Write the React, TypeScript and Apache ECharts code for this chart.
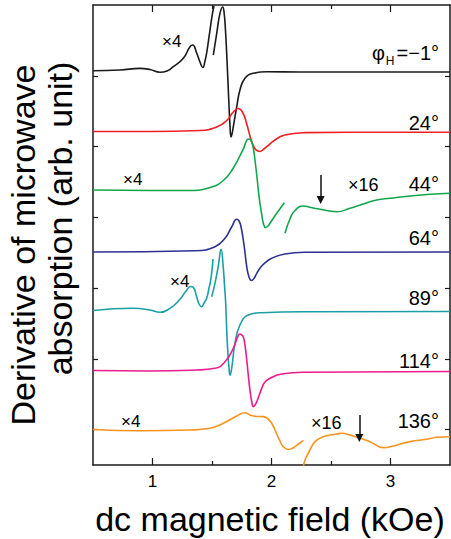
import React, { useEffect, useRef } from 'react';
import * as echarts from 'echarts';

// ---------- data (field in kOe, value = derivative signal relative to each trace's baseline, arb. unit) ----------
const curveOffsets = [5.067, 4.22, 3.386, 2.51, 1.683, 0.835, -0.005];
const curveColors = ['#1a1a1a', '#ed2024', '#12a64c', '#2e3192', '#1b9ea6', '#ec1c8c', '#f7941d'];
const angleLabels = ['=\u22121\u00b0', '24\u00b0', '44\u00b0', '64\u00b0', '89\u00b0', '114\u00b0', '136\u00b0'];
const xTickLabels = [1, 2, 3];
const xMinorTicks = [1.5, 2.5];
const yTicks = [0, 1, 2, 3, 4, 5];

// φH = -1°
const blackX4B = [0.5, 0.727, 0.895, 0.979, 1.063, 1.122, 1.175, 1.259, 1.315, 1.338, 1.371, 1.399, 1.423, 1.441, 1.455, 1.483, 1.503, 1.517];
const blackX4V = [0.004, 0.014, 0.038, 0.021, -0.018, 0, 0.061, 0.179, 0.343, 0.367, 0.254, 0.127, 0.049, 0.141, 0.254, 0.579, 0.805, 0.918];
const blackB = [1.511, 1.54, 1.567, 1.59, 1.601, 1.613, 1.626, 1.639, 1.651, 1.66, 1.668, 1.679, 1.708, 1.735, 1.777, 1.847, 1.96, 2.239, 3.5];
const blackV = [0.226, 0.537, 0.815, 0.904, 0.834, 0.579, 0.155, -0.339, -0.763, -0.933, -0.89, -0.787, -0.504, -0.268, -0.103, -0.032, -0.01, -0.014, -0.014];

// 24°
const redB = [0.5, 0.979, 1.399, 1.54, 1.624, 1.679, 1.721, 1.758, 1.792, 1.819, 1.845, 1.87, 1.903, 1.937, 1.96, 2.029, 2.113, 2.282, 2.66, 3.5];
const redV = [-0.007, -0.007, 0.007, 0.057, 0.148, 0.268, 0.318, 0.261, 0.099, -0.071, -0.198, -0.268, -0.29, -0.254, -0.222, -0.127, -0.057, -0.024, -0.018, -0.018];

// 44°
const greenB = [0.5, 0.979, 1.315, 1.483, 1.595, 1.679, 1.763, 1.808, 1.828, 1.847, 1.861, 1.876, 1.891, 1.903, 1.92, 1.933, 1.95, 1.971, 1.987, 2.044, 2.108];
const greenV = [0, -0.007, -0.007, 0.035, 0.134, 0.311, 0.579, 0.721, 0.699, 0.589, 0.424, 0.212, -0.028, -0.188, -0.367, -0.48, -0.53, -0.509, -0.471, -0.329, -0.179];
const greenX16B = [2.113, 2.155, 2.197, 2.267, 2.324, 2.408, 2.548, 2.66, 2.771, 2.884, 2.996, 3.164, 3.332, 3.5];
const greenX16V = [-0.612, -0.41, -0.29, -0.226, -0.244, -0.273, -0.307, -0.259, -0.198, -0.141, -0.117, -0.085, -0.061, -0.047];

// 64°
const blueB = [0.5, 1.357, 1.525, 1.609, 1.666, 1.708, 1.727, 1.744, 1.771, 1.792, 1.811, 1.832, 1.853, 1.876, 1.903, 1.945, 2.002, 2.113, 2.282, 3.5];
const blueV = [0, 0.018, 0.075, 0.194, 0.357, 0.462, 0.438, 0.357, 0.075, -0.208, -0.353, -0.403, -0.374, -0.301, -0.23, -0.155, -0.089, -0.028, -0.004, 0];

// 89°
const cyanX4B = [0.5, 0.839, 0.979, 1.063, 1.147, 1.231, 1.282, 1.319, 1.34, 1.371, 1.391, 1.413, 1.433, 1.455, 1.475, 1.489, 1.5, 1.508];
const cyanX4V = [0, 0.031, 0.007, -0.025, 0.031, 0.158, 0.276, 0.339, 0.332, 0.195, 0.092, 0.054, 0.106, 0.172, 0.318, 0.431, 0.572, 0.728];
const cyanB = [1.497, 1.525, 1.553, 1.576, 1.595, 1.605, 1.615, 1.622, 1.632, 1.643, 1.651, 1.66, 1.671, 1.693, 1.735, 1.805, 1.918, 2.282, 3.5];
const cyanV = [0.195, 0.384, 0.629, 0.865, 0.6, 0.36, 0.102, -0.205, -0.558, -0.812, -0.911, -0.869, -0.746, -0.463, -0.205, -0.064, -0.031, -0.017, -0.014];

// 114°
const magentaB = [0.5, 0.979, 1.357, 1.525, 1.609, 1.679, 1.718, 1.735, 1.752, 1.763, 1.777, 1.792, 1.805, 1.819, 1.836, 1.847, 1.861, 1.876, 1.918, 1.945, 1.987, 2.086, 2.282, 3.5];
const magentaV = [0, -0.007, 0.007, 0.031, 0.124, 0.314, 0.487, 0.516, 0.501, 0.477, 0.36, 0.148, -0.064, -0.276, -0.459, -0.512, -0.487, -0.441, -0.252, -0.163, -0.11, -0.049, -0.025, -0.014];

// 136°
const orangeX4B = [0.5, 0.895, 1.315, 1.483, 1.595, 1.708, 1.777, 1.819, 1.876, 1.931, 1.971, 2.002, 2.044, 2.071, 2.099, 2.141, 2.172, 2.197, 2.239, 2.269];
const orangeX4V = [0.007, -0.01, 0, 0.024, 0.095, 0.198, 0.244, 0.212, 0.191, 0.188, 0.155, 0.095, -0.057, -0.155, -0.236, -0.276, -0.261, -0.236, -0.184, -0.148];
const orangeX16B = [2.261, 2.282, 2.309, 2.366, 2.435, 2.548, 2.59, 2.66, 2.744, 2.828, 2.94, 3.024, 3.164, 3.304, 3.388, 3.5];
const orangeX16V = [-0.565, -0.424, -0.329, -0.165, -0.095, -0.057, -0.047, -0.071, -0.117, -0.165, -0.25, -0.226, -0.165, -0.131, -0.103, -0.095];

// arrows marking weak modes: [field, start value, end value] relative to trace baseline
const greenArrow = [2.413, 0.212, -0.141];
const orangeArrow = [2.738, 0.212, -0.113];

const FONT = '"Liberation Sans", Arial, Helvetica, sans-serif';
const AXIS_COLOR = '#1a1a1a';

function seg(B: number[], V: number[], idx: number, extra: any = {}) {
  const off = curveOffsets[idx];
  return {
    type: 'line',
    data: B.map((b, i) => [b, off + V[i]]),
    showSymbol: false,
    symbol: 'none',
    smooth: 0.5,
    clip: true,
    silent: true,
    lineStyle: { color: curveColors[idx], width: 1.6 },
    itemStyle: { color: curveColors[idx] },
    z: 3,
    ...extra,
  };
}

function arrowMark(a: number[], idx: number) {
  const off = curveOffsets[idx];
  return {
    silent: true,
    symbol: ['none', 'triangle'],
    symbolSize: 8,
    symbolRotate: 180,
    label: { show: false },
    lineStyle: { color: '#111', width: 1.5, type: 'solid' },
    itemStyle: { color: '#111' },
    emphasis: { disabled: true },
    data: [[{ coord: [a[0], off + a[1]] }, { coord: [a[0], off + a[2]] }]],
  };
}

function xAxisDef(position: string, major: boolean) {
  return {
    type: 'value',
    position,
    min: 0.5,
    max: 3.5,
    axisLine: { show: major, onZero: false, lineStyle: { color: AXIS_COLOR, width: 1.5 } },
    axisTick: {
      show: true,
      inside: true,
      length: major ? 7 : 4,
      customValues: major ? xTickLabels : xMinorTicks,
      lineStyle: { color: AXIS_COLOR, width: 1.2 },
    },
    axisLabel: {
      show: major && position === 'bottom',
      customValues: xTickLabels,
      fontSize: 17,
      color: '#000',
      margin: 8,
      fontFamily: FONT,
    },
    splitLine: { show: false },
  };
}

function yAxisDef(position: string) {
  return {
    type: 'value',
    position,
    min: -0.5,
    max: 6,
    axisLine: { show: true, onZero: false, lineStyle: { color: AXIS_COLOR, width: 1.5 } },
    axisTick: { show: true, inside: true, length: 5, customValues: yTicks, lineStyle: { color: AXIS_COLOR, width: 1.2 } },
    axisLabel: { show: false },
    splitLine: { show: false },
  };
}

function txt(text: string, x: number, y: number, size: number, align: string, extra: any = {}) {
  return {
    type: 'text',
    x,
    y,
    silent: true,
    z: 10,
    style: { text, fontSize: size, fontFamily: FONT, fill: '#000', align, verticalAlign: 'middle' },
    ...extra,
  };
}

const labelYs = [52.5, 122.5, 184, 237.5, 298, 360.5, 420.5];

const option: any = {
  animation: false,
  backgroundColor: '#fff',
  grid: { left: 93, top: 5, right: 1, bottom: 74, containLabel: false },
  xAxis: [xAxisDef('bottom', true), xAxisDef('bottom', false), xAxisDef('top', true), xAxisDef('top', false)],
  yAxis: [yAxisDef('left'), yAxisDef('right')],
  series: [
    seg(blackX4B, blackX4V, 0),
    seg(blackB, blackV, 0),
    seg(redB, redV, 1),
    seg(greenB, greenV, 2),
    seg(greenX16B, greenX16V, 2, { markLine: arrowMark(greenArrow, 2) }),
    seg(blueB, blueV, 3),
    seg(cyanX4B, cyanX4V, 4),
    seg(cyanB, cyanV, 4),
    seg(magentaB, magentaV, 5),
    seg(orangeX4B, orangeX4V, 6),
    seg(orangeX16B, orangeX16V, 6, { markLine: arrowMark(orangeArrow, 6) }),
  ],
  graphic: [
    // angle labels
    ...angleLabels.map((t, i) => txt(t, 439, labelYs[i], 20, 'right')),
    txt('\u03c6', 385, 52.5, 20, 'right'),
    txt('H', 394.5, 61, 12, 'right'),
    // magnification labels
    txt('\u00d74', 162, 41, 17, 'left'),
    txt('\u00d74', 123, 179, 17, 'left'),
    txt('\u00d74', 170, 281, 17, 'left'),
    txt('\u00d74', 121, 421.5, 17, 'left'),
    txt('\u00d716', 348, 185, 18, 'left'),
    txt('\u00d716', 311, 422.5, 18, 'left'),
    // axis titles
    txt('dc magnetic field (kOe)', 270, 519, 34, 'center'),
    txt('Derivative of microwave', 22.5, 245, 34, 'center', { rotation: Math.PI / 2 }),
    txt('absorption (arb. unit)', 60, 218.5, 34, 'center', { rotation: Math.PI / 2 }),
  ],
};

export default function App() {
  const ref = useRef<HTMLDivElement>(null);
  useEffect(() => {
    if (!ref.current) return;
    const chart = echarts.init(ref.current, null, { renderer: 'svg' });
    chart.setOption(option);
    return () => chart.dispose();
  }, []);
  return (
    <div
      ref={ref}
      style={{ position: 'absolute', left: 0, top: 0, width: 451, height: 539, background: '#fff' }}
    />
  );
}
